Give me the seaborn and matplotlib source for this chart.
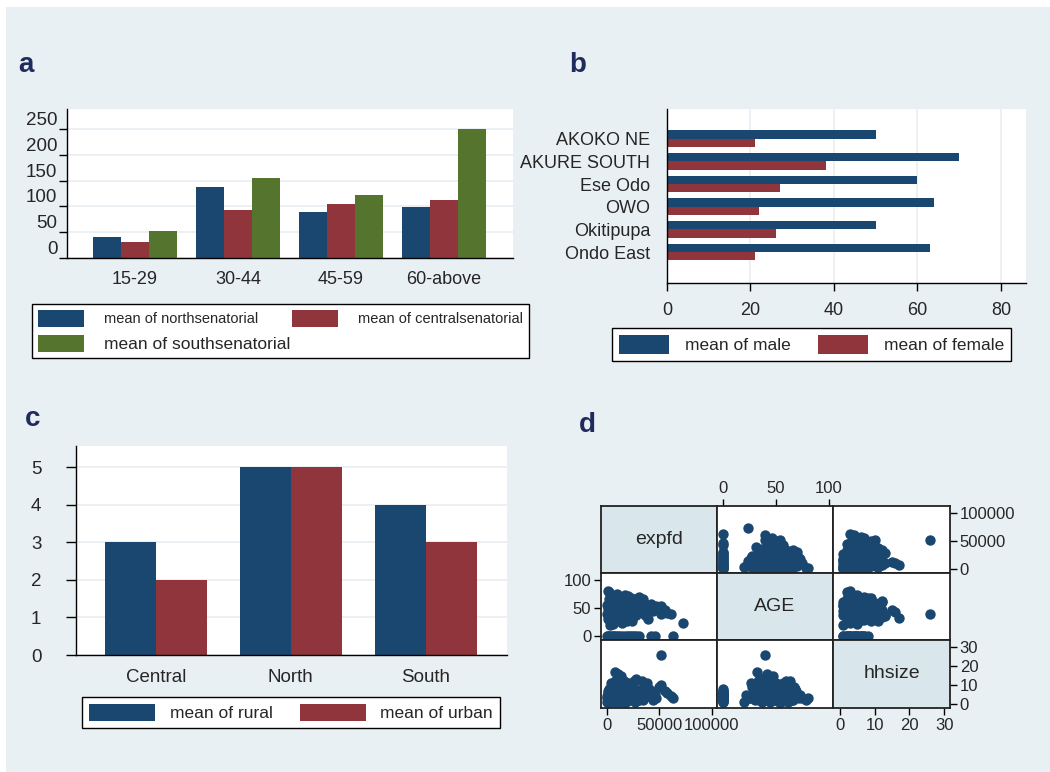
import numpy as np
import pandas as pd
import matplotlib.pyplot as plt
from matplotlib.patches import Patch, Rectangle
import seaborn as sns

# ---- data ----
age_groups = ['15-29', '30-44', '45-59', '60-above']
north_senatorial = [41, 137, 89, 99]
central_senatorial = [32, 93, 104, 113]
south_senatorial = [53, 156, 123, 251]

lgas = ['AKOKO NE', 'AKURE SOUTH', 'Ese Odo', 'OWO', 'Okitipupa', 'Ondo East']
male = [50, 70, 60, 64, 50, 63]
female = [21, 38, 27, 22, 26, 21]

districts = ['Central', 'North', 'South']
rural = [3, 5, 4]
urban = [2, 5, 3]

# household survey observations (scatter matrix)
expfd = [0, 2000, 4000, 6000, 9000, 12000, 15000, 18000, 22000, 26000, 31000, 42000, 46000, 63000,
         1000, 7000, 11000, 20000, 24000, 28000,
         5000, 8000, 12000, 15000, 20000, 3000, 18000, 25000, 10000, 7000,
         14000, 22000, 30000, 9000, 17000, 4000, 27000, 12000, 6000, 20000,
         2000, 1000, 35000, 38000, 40000, 45000, 50000, 55000, 57000, 61000,
         52000, 33000, 28000, 16000, 11000, 8000, 11000, 13000, 24000, 19000,
         6000, 3000, 1000, 2000, 500, 1500, 4000, 7000, 9000, 13000,
         21000, 26000, 29000, 32000, 36000, 39000, 42000, 47000, 44000, 23000,
         17000, 10000, 5000, 31000, 14000, 9000, 27000, 34000, 6000, 16000,
         22000, 12000, 3500, 2500, 18000, 8000, 25000, 37000, 29000,
         3000, 5500, 7500, 9500, 11500, 13500, 15500, 17500, 19500, 21500,
         23500, 25500, 27500, 29500, 4500, 6500, 8500, 10500, 12500, 14500,
         16500, 18500, 20500, 22500, 24500, 1500, 3500, 5500, 7500, 9500,
         11500, 13500, 15500, 17500, 19500, 21500, 23500, 26500, 28500, 30500,
         33500, 35500, 37500, 2500, 4500, 6500, 8500, 10500, 12500, 14500,
         16500, 18500, 20500, 22500, 24500, 500, 1000, 2000, 3000, 26000,
         52000, 73000]
age = [0, 0, 0, 0, 0, 0, 0, 0, 0, 0, 0, 0, 0, 0,
       0, 0, 0, 0, 0, 0,
       25, 28, 30, 32, 35, 38, 40, 42, 45, 48,
       50, 52, 55, 58, 60, 62, 65, 68, 70, 72,
       78, 80, 45, 50, 55, 48, 52, 46, 41, 40,
       54, 60, 38, 33, 36, 32, 42, 47, 27, 26,
       22, 20, 30, 44, 55, 65, 35, 40, 53, 57,
       63, 58, 49, 43, 37, 31, 57, 53, 44, 67,
       73, 75, 68, 70, 24, 63, 53, 66, 50, 55,
       29, 37, 47, 58, 51, 61, 34, 41, 62,
       27, 31, 34, 37, 39, 41, 43, 45, 47, 49,
       51, 53, 55, 57, 59, 61, 63, 65, 67, 69,
       44, 46, 48, 50, 52, 54, 56, 38, 36, 33,
       30, 28, 26, 29, 31, 35, 39, 41, 43, 45,
       47, 49, 51, 42, 46, 48, 52, 56, 59, 62,
       64, 66, 60, 58, 37, 40, 48, 35, 64, 46,
       40, 24]
hhsize = [1, 3, 5, 2, 6, 4, 8, 1, 3, 5, 2, 4, 6, 3,
          7, 2, 5, 6, 4, 7,
          3, 4, 5, 6, 7, 2, 8, 5, 9, 6,
          4, 10, 7, 3, 5, 2, 8, 6, 4, 3,
          2, 3, 6, 11, 8, 5, 9, 7, 6, 4,
          10, 12, 13, 12, 13, 17, 16, 15, 9, 11,
          5, 1, 2, 1, 3, 2, 7, 10, 8, 11,
          4, 6, 2, 3, 5, 4, 7, 3, 2, 9,
          5, 3, 8, 4, 3, 12, 1, 2, 4, 1,
          6, 1, 11, 5, 3, 1, 2, 9, 3,
          4, 6, 3, 5, 7, 2, 9, 4, 6, 8,
          3, 5, 7, 2, 6, 9, 4, 5, 3, 7,
          10, 8, 11, 6, 4, 2, 8, 10, 12, 9,
          6, 5, 3, 7, 4, 2, 9, 6, 3, 5,
          8, 4, 7, 5, 3, 2, 6, 9, 4, 6,
          2, 5, 8, 10, 7, 4, 6, 8, 5, 12,
          26, np.nan]
scatter_vars = ['expfd', 'AGE', 'hhsize']

# ---- style ----
BLUE, RED, GREEN = '#1a476f', '#90353b', '#55752f'
BG = '#e9f0f3'
GRID = '#e6eef1'
sns.set_style('white')
plt.rcParams['font.family'] = ['Liberation Sans', 'DejaVu Sans']
plt.rcParams['axes.linewidth'] = 1.0

W, H = 1050, 772
fig = plt.figure(figsize=(W / 100, H / 100), dpi=100)
fig.patch.set_facecolor('white')
fig.patches.append(Rectangle((6 / W, 0), 1, 1 - 7 / H, transform=fig.transFigure,
                             facecolor=BG, edgecolor='none', zorder=-10))


def px_axes(x0, y0, x1, y1):
    return fig.add_axes([x0 / W, 1 - y1 / H, (x1 - x0) / W, (y1 - y0) / H])


def boxed_legend(ax, colors, labels, box, fontsize, ncol, hl, hh, pad):
    x0, y0, x1, y1 = box
    handles = [Patch(facecolor=c, edgecolor='none') for c in colors]
    leg = ax.legend(handles, labels, loc='center', ncol=ncol, mode='expand',
                    bbox_to_anchor=(x0 / W, 1 - y1 / H, (x1 - x0) / W, (y1 - y0) / H),
                    bbox_transform=fig.transFigure, fontsize=fontsize, frameon=True,
                    fancybox=False, framealpha=1, edgecolor='black',
                    handlelength=hl, handleheight=hh, handletextpad=pad,
                    borderaxespad=0, borderpad=0.4, labelspacing=0.6, columnspacing=0.5)
    leg.get_frame().set_linewidth(1.0)
    return leg


def style_axes(ax):
    ax.set_facecolor('white')
    sns.despine(ax=ax)
    for s in ['left', 'bottom']:
        ax.spines[s].set_color('black')
    ax.set_xlabel('')
    ax.set_ylabel('')


# ---- panel a ----
ax_a = px_axes(67, 109, 513, 258)
dfa = pd.DataFrame({'group': age_groups * 3,
                    'value': north_senatorial + central_senatorial + south_senatorial,
                    'series': ['north'] * 4 + ['central'] * 4 + ['south'] * 4})
ax_a.set_axisbelow(True)
ax_a.yaxis.grid(True, color=GRID, lw=1.2)
sns.barplot(data=dfa, x='group', y='value', hue='series', hue_order=['north', 'central', 'south'],
            palette=[BLUE, RED, GREEN], width=0.82, saturation=1, linewidth=0,
            errorbar=None, legend=False, ax=ax_a)
style_axes(ax_a)
ax_a.set_ylim(0, 289)
ax_a.set_xlim(-0.66, 3.67)
ax_a.set_yticks([0, 50, 100, 150, 200, 250])
ax_a.tick_params(axis='y', length=6, width=1, color='black', labelsize=13.5, pad=1, left=True)
ax_a.tick_params(axis='x', length=0, labelsize=13, pad=9)
for lbl in ax_a.get_yticklabels():
    lbl.set_va('bottom')
leg_a = boxed_legend(ax_a, [BLUE, GREEN, RED],
                     ['mean of northsenatorial', 'mean of southsenatorial', 'mean of centralsenatorial'],
                     (32, 297, 529, 365), 10.5, 2, 3.15, 1.4, 1.4)
leg_a.get_texts()[1].set_fontsize(12.5)

# ---- panel b ----
ax_b = px_axes(667, 109, 1026, 283)
dfb = pd.DataFrame({'lga': lgas * 2, 'value': male + female,
                    'sex': ['male'] * 6 + ['female'] * 6})
ax_b.set_axisbelow(True)
ax_b.xaxis.grid(True, color=GRID, lw=1.2)
sns.barplot(data=dfb, y='lga', x='value', hue='sex', hue_order=['male', 'female'],
            palette=[BLUE, RED], orient='h', width=0.74, saturation=1, linewidth=0,
            errorbar=None, legend=False, ax=ax_b)
style_axes(ax_b)
ax_b.set_xlim(0, 86)
ax_b.set_ylim(6.37, -1.32)
ax_b.set_xticks([0, 20, 40, 60, 80])
ax_b.tick_params(axis='x', length=6, width=1, color='black', labelsize=13, pad=8, bottom=True)
ax_b.tick_params(axis='y', length=0, labelsize=13, pad=12)
boxed_legend(ax_b, [BLUE, RED], ['mean of male', 'mean of female'],
             (612, 325, 1011, 364), 12.5, 2, 2.9, 1.25, 0.9)

# ---- panel c ----
ax_c = px_axes(76, 446, 507, 655)
dfc = pd.DataFrame({'district': districts * 2, 'value': rural + urban,
                    'area': ['rural'] * 3 + ['urban'] * 3})
ax_c.set_axisbelow(True)
ax_c.yaxis.grid(True, color=GRID, lw=1.2)
sns.barplot(data=dfc, x='district', y='value', hue='area', hue_order=['rural', 'urban'],
            palette=[BLUE, RED], width=0.755, saturation=1, linewidth=0,
            errorbar=None, legend=False, ax=ax_c)
style_axes(ax_c)
ax_c.set_ylim(0, 5.56)
ax_c.set_xlim(-0.59, 2.6)
ax_c.set_yticks(range(6))
ax_c.tick_params(axis='y', length=7, width=1, color='black', labelsize=13.5, pad=18, left=True)
ax_c.tick_params(axis='x', length=0, labelsize=13.5, pad=10)
boxed_legend(ax_c, [BLUE, RED], ['mean of rural', 'mean of urban'],
             (82, 694, 500, 731), 12.5, 2, 3.8, 1.2, 0.85)

# ---- panel d: scatter matrix ----
dfd = pd.DataFrame({'expfd': expfd, 'AGE': age, 'hhsize': hhsize})
xlims = {'expfd': (-5700, 105000), 'AGE': (-5.7, 104), 'hhsize': (-2, 31.7)}
ylims = {'expfd': (-7000, 112000), 'AGE': (-7, 112), 'hhsize': (-2.1, 33.7)}
ticks = {'expfd': [0, 50000, 100000], 'AGE': [0, 50, 100], 'hhsize': [0, 10, 20, 30]}
col_edges = [601, 717, 833, 950]
row_edges = [506, 573, 640, 708]
# which cell carries the axis labels for each variable
tick_side_rows = {0: (2, 'right'), 1: (0, 'left'), 2: (2, 'right')}
tick_side_cols = {0: (2, 'bottom'), 1: (0, 'top'), 2: (2, 'bottom')}

for i, yv in enumerate(scatter_vars):
    for j, xv in enumerate(scatter_vars):
        ax = px_axes(col_edges[j], row_edges[i], col_edges[j + 1], row_edges[i + 1])
        for s in ax.spines.values():
            s.set_visible(True)
            s.set_color('#222222')
            s.set_linewidth(1.3)
        ax.set_xticks([])
        ax.set_yticks([])
        if i == j:
            ax.set_facecolor('#d9e6ec')
            ax.text(0.5, 0.5, yv, transform=ax.transAxes, ha='center', va='center', fontsize=14)
        else:
            ax.set_facecolor('white')
            sns.scatterplot(data=dfd, x=xv, y=yv, color=BLUE, s=56, linewidth=0,
                            alpha=1, ax=ax)
            ax.set_xlabel('')
            ax.set_ylabel('')
        ax.set_xlim(*xlims[xv])
        ax.set_ylim(*ylims[yv])
        if tick_side_rows[i][0] == j:
            side = tick_side_rows[i][1]
            ax.set_yticks(ticks[yv])
            ax.tick_params(axis='y', length=5, width=1, color='black', labelsize=12, pad=2,
                           left=(side == 'left'), right=(side == 'right'),
                           labelleft=(side == 'left'), labelright=(side == 'right'))
        if tick_side_cols[j][0] == i:
            side = tick_side_cols[j][1]
            ax.set_xticks(ticks[xv])
            ax.tick_params(axis='x', length=5, width=1, color='black', labelsize=12, pad=2,
                           bottom=(side == 'bottom'), top=(side == 'top'),
                           labelbottom=(side == 'bottom'), labeltop=(side == 'top'))

# ---- panel letters ----
for letter, x, y in [('a', 18, 72), ('b', 569, 72), ('c', 25, 426), ('d', 579, 432)]:
    fig.text(x / W, 1 - y / H, letter, fontsize=20, fontweight='bold', color='#1f2b5c',
             ha='left', va='baseline')

fig.savefig('out.png', dpi=100)
